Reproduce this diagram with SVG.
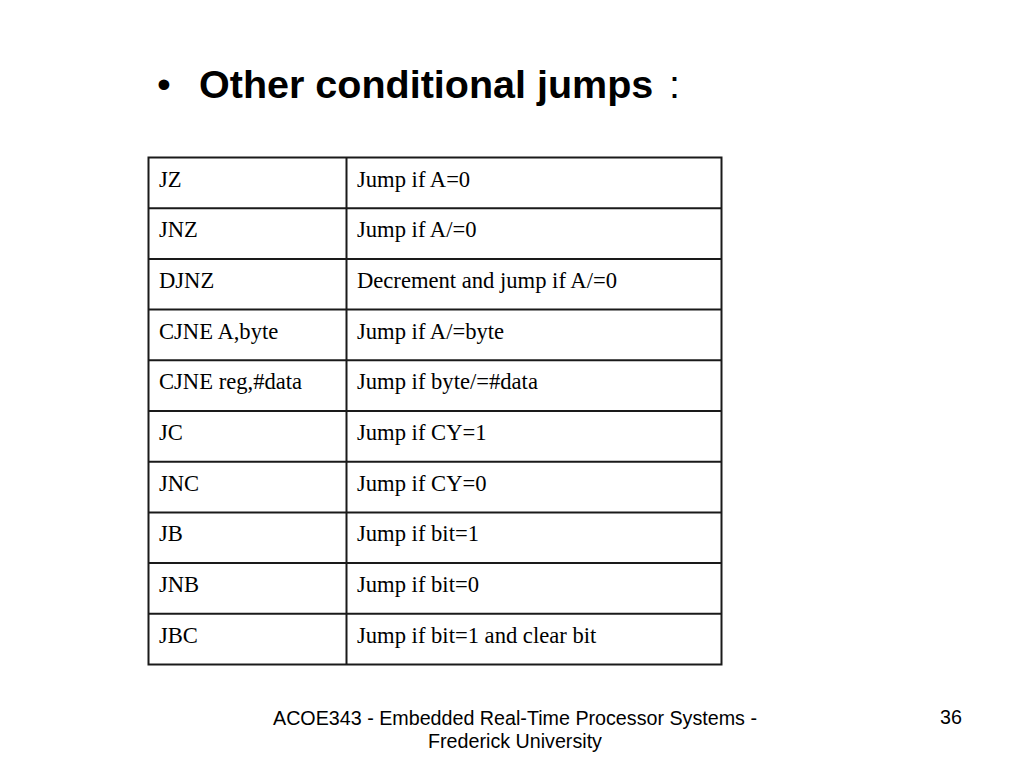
<svg xmlns="http://www.w3.org/2000/svg" width="1024" height="768" viewBox="0 0 1024 768">
<style>
.title{font-family:"Liberation Sans",Arial,sans-serif;font-size:39.5px;fill:#000}
.cell{font-family:"Liberation Serif","Times New Roman",serif;font-size:22.6px;fill:#000}
.foot{font-family:"Liberation Sans",Arial,sans-serif;font-size:19.7px;fill:#000}
.grid{stroke:#1a1a1a;stroke-width:2;fill:none}
</style>
<rect width="1024" height="768" fill="#fff"/>
<g id="title">
<text class="title" x="157" y="98">•</text>
<text class="title" x="199" y="98"><tspan font-weight="bold">Other conditional jumps</tspan></text>
<text class="title" x="669" y="98">:</text>
</g>
<g id="table">
<rect class="grid" x="148.5" y="157.5" width="573" height="507"/>
<line class="grid" x1="346.5" y1="157.5" x2="346.5" y2="664.5"/>
<line class="grid" x1="148.5" y1="208.2" x2="721.5" y2="208.2"/>
<line class="grid" x1="148.5" y1="258.9" x2="721.5" y2="258.9"/>
<line class="grid" x1="148.5" y1="309.6" x2="721.5" y2="309.6"/>
<line class="grid" x1="148.5" y1="360.3" x2="721.5" y2="360.3"/>
<line class="grid" x1="148.5" y1="411.0" x2="721.5" y2="411.0"/>
<line class="grid" x1="148.5" y1="461.7" x2="721.5" y2="461.7"/>
<line class="grid" x1="148.5" y1="512.4" x2="721.5" y2="512.4"/>
<line class="grid" x1="148.5" y1="563.1" x2="721.5" y2="563.1"/>
<line class="grid" x1="148.5" y1="613.8" x2="721.5" y2="613.8"/>
<g id="row1"><text class="cell" x="159" y="186.5">JZ</text><text class="cell" x="357" y="186.5">Jump if A=0</text></g>
<g id="row2"><text class="cell" x="159" y="237.2">JNZ</text><text class="cell" x="357" y="237.2">Jump if A/=0</text></g>
<g id="row3"><text class="cell" x="159" y="287.9">DJNZ</text><text class="cell" x="357" y="287.9">Decrement and jump if A/=0</text></g>
<g id="row4"><text class="cell" x="159" y="338.6">CJNE A,byte</text><text class="cell" x="357" y="338.6">Jump if A/=byte</text></g>
<g id="row5"><text class="cell" x="159" y="389.3">CJNE reg,#data</text><text class="cell" x="357" y="389.3">Jump if byte/=#data</text></g>
<g id="row6"><text class="cell" x="159" y="440">JC</text><text class="cell" x="357" y="440">Jump if CY=1</text></g>
<g id="row7"><text class="cell" x="159" y="490.7">JNC</text><text class="cell" x="357" y="490.7">Jump if CY=0</text></g>
<g id="row8"><text class="cell" x="159" y="541.4">JB</text><text class="cell" x="357" y="541.4">Jump if bit=1</text></g>
<g id="row9"><text class="cell" x="159" y="592.1">JNB</text><text class="cell" x="357" y="592.1">Jump if bit=0</text></g>
<g id="row10"><text class="cell" x="159" y="642.8">JBC</text><text class="cell" x="357" y="642.8">Jump if bit=1 and clear bit</text></g>
</g>
<g id="footer">
<text class="foot" x="515" y="725" text-anchor="middle">ACOE343 - Embedded Real-Time Processor Systems -</text>
<text class="foot" x="515" y="748" text-anchor="middle">Frederick University</text>
<text class="foot" x="951" y="723.5" text-anchor="middle">36</text>
</g>
</svg>
